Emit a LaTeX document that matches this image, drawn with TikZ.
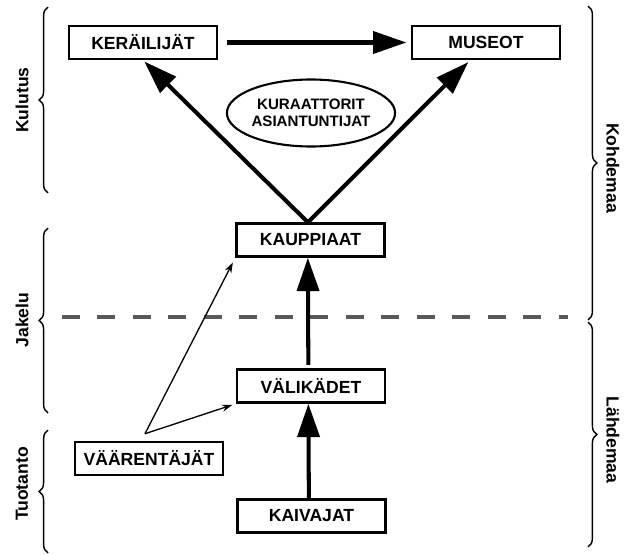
\documentclass[tikz,border=0pt]{standalone}
\usepackage{fontspec}
\setmainfont{Liberation Sans}
\usetikzlibrary{arrows.meta,shapes.geometric,decorations.pathreplacing}

\begin{document}
\begin{tikzpicture}[x=0.02cm,y=-0.02cm,
  box/.style={draw, line width=1.4pt, minimum width=2.96cm, minimum height=0.66cm, inner sep=0pt, font=\fontsize{10}{12}\selectfont\bfseries},
  flow/.style={line width=2.3pt, -{Triangle[length=19pt,width=12.5pt]}},
  fake/.style={line width=0.75pt, -{Stealth[length=6pt,width=4pt]}},
  side/.style={decorate, decoration={brace,amplitude=5pt}, line width=0.8pt},
  phase/.style={font=\fontsize{10}{12}\selectfont\bfseries}]

\useasboundingbox (0,0) rectangle (630,555);

\def \leftx {48}
\def \rightx {588}
\def \midy {317}

\draw [side] (\leftx,193) -- (\leftx,7);
\draw [side] (\leftx,413) -- (\leftx,228);
\draw [side] (\leftx,553) -- (\leftx,430);
\draw [side] (\rightx,6) -- (\rightx,320);
\draw [side] (\rightx,322) -- (\rightx,547);

\node [phase, rotate=90] (kulutus) at (22,100) {Kulutus};
\node [phase, rotate=90] (jakelu) at (22,320) {Jakelu};
\node [phase, rotate=90] (tuotanto) at (22,484) {Tuotanto};
\node [phase, rotate=-90] (kohdemaa) at (613,168) {Kohdemaa};
\node [phase, rotate=-90] (lahdemaa) at (613,440) {Lähdemaa};

\draw [line width=2.8pt, black!65, dash pattern=on 10.2pt off 10pt] (62,\midy) -- (568,\midy);

\node [box] (kerailijat) at (143,42.5) {KERÄILIJÄT};
\node [box] (museot) at (486,42.5) {MUSEOT};
\node [draw, ellipse, line width=1.2pt, minimum width=2.84cm, minimum height=1.34cm, inner sep=0pt, align=center, font=\fontsize{8.6}{9.6}\selectfont\bfseries] (kuraattorit) at (311,113) {KURAATTORIT\\ASIANTUNTIJAT};
\node [box] (kauppiaat) at (310.5,240) {KAUPPIAAT};
\node [box] (valikadet) at (311,386) {VÄLIKÄDET};
\node [box] (kaivajat) at (311.5,516) {KAIVAJAT};
\node [box] (vaarentajat) at (149,458.5) {VÄÄRENTÄJÄT};

\draw [flow, shorten <=5pt, shorten >=2.5pt] (kerailijat) -- (museot);
\draw [flow, shorten >=1pt] ([xshift=-1.5pt]kauppiaat.north) -- (kerailijat.south);
\draw [flow, shorten >=1.5pt] ([xshift=-1.5pt]kauppiaat.north) -- ([xshift=-9pt]museot.south);
\draw [flow, shorten <=2pt] ([xshift=-1.5pt]valikadet.north) -- ([xshift=-1.5pt]kauppiaat.south);
\draw [flow] ([xshift=-1.5pt]kaivajat.north) -- ([xshift=-1.5pt]valikadet.south);

\coordinate (fork) at ([xshift=-2.3pt,yshift=4pt]vaarentajat.north);
\draw [fake, shorten >=3pt] (fork) -- (kauppiaat.south west);
\draw [fake, shorten >=2pt] (fork) -- (valikadet.south west);
\end{tikzpicture}
\end{document}
